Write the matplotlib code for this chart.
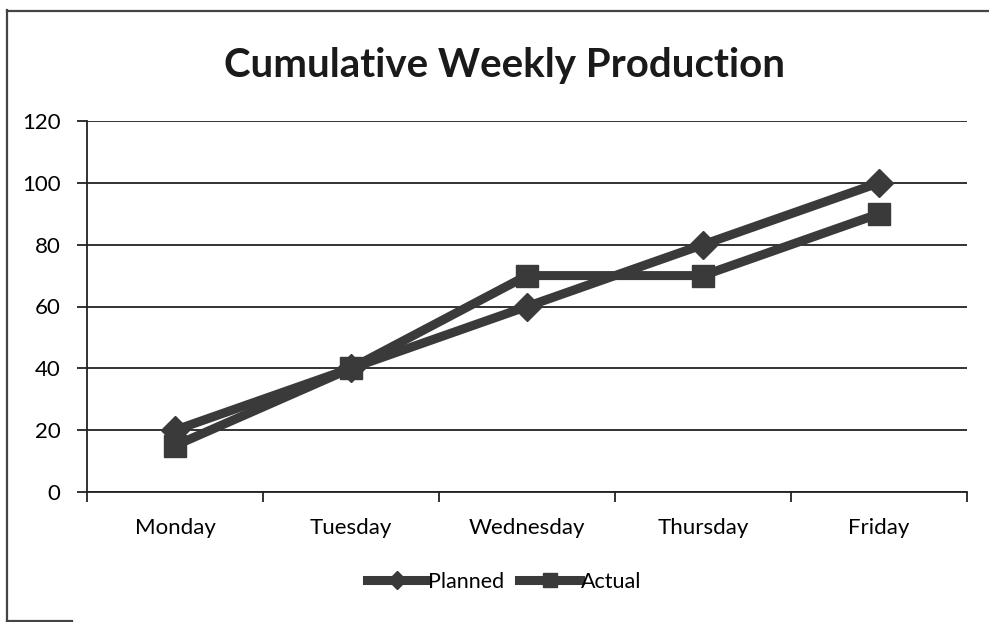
import matplotlib
matplotlib.use("Agg")
import matplotlib.pyplot as plt
from matplotlib.lines import Line2D

# data
days = ["Monday", "Tuesday", "Wednesday", "Thursday", "Friday"]
planned = [20, 40, 60, 80, 100]
actual = [15, 40, 70, 70, 90]
y_ticks = [0, 20, 40, 60, 80, 100, 120]

LINE = "#3a3a3a"
plt.rcParams["font.family"] = ["Lato", "DejaVu Sans"]

W, H = 989, 622
fig = plt.figure(figsize=(W / 100, H / 100), dpi=100)
fig.patch.set_facecolor("white")

# scanned frame: left + top edge, short bit of bottom
frame = dict(color="#444444", lw=1.6, transform=fig.transFigure)
fig.add_artist(Line2D([7 / W, 7 / W], [1 - 10 / H, 1 - 621 / H], **frame))
fig.add_artist(Line2D([7 / W, 1.0], [1 - 11 / H, 1 - 11 / H], **frame))
fig.add_artist(Line2D([7 / W, 72 / W], [1 - 621 / H, 1 - 621 / H], **frame))

ax = fig.add_axes([87 / W, 1 - 492 / H, (967 - 87) / W, (492 - 121) / H])
x = list(range(len(days)))

ax.plot(x, planned, color=LINE, lw=6.5, marker="D", ms=14,
        mfc=LINE, mec=LINE, solid_joinstyle="round", label="Planned", zorder=3)
ax.plot(x, actual, color=LINE, lw=6.5, marker="s", ms=15.5,
        mfc=LINE, mec=LINE, solid_joinstyle="round", label="Actual", zorder=3)

ax.set_xlim(-0.5, len(days) - 0.5)
ax.set_ylim(0, 120)
ax.set_yticks(y_ticks)
ax.set_yticklabels([str(v) for v in y_ticks], fontsize=16)
ax.set_xticks([i - 0.5 for i in range(len(days) + 1)])
ax.set_xticklabels([])
ax.set_xticks(x, minor=True)
ax.set_xticklabels(days, minor=True, fontsize=16)
ax.tick_params(axis="x", which="major", direction="out", length=7, width=1.3, color="#222222")
ax.tick_params(axis="x", which="minor", length=0, pad=19)
ax.tick_params(axis="y", direction="out", length=7, width=1.3, color="#222222", pad=12)

ax.grid(True, axis="y", color="#222222", lw=1.3)
ax.set_axisbelow(True)
for side in ("top", "right"):
    ax.spines[side].set_visible(False)
for side in ("left", "bottom"):
    ax.spines[side].set_linewidth(1.3)
    ax.spines[side].set_color("#222222")

fig.text(504 / W, 1 - 66 / H, "Cumulative Weekly Production",
         ha="center", va="center", fontsize=29, fontweight="bold", color="#1a1a1a")

fig.legend(loc="center", bbox_to_anchor=(504 / W, 1 - 582 / H), ncol=2,
           frameon=False, fontsize=15.5, handlelength=2.8, handletextpad=0.05,
           columnspacing=0.7, markerscale=0.65)

fig.savefig("out.png", dpi=100)
